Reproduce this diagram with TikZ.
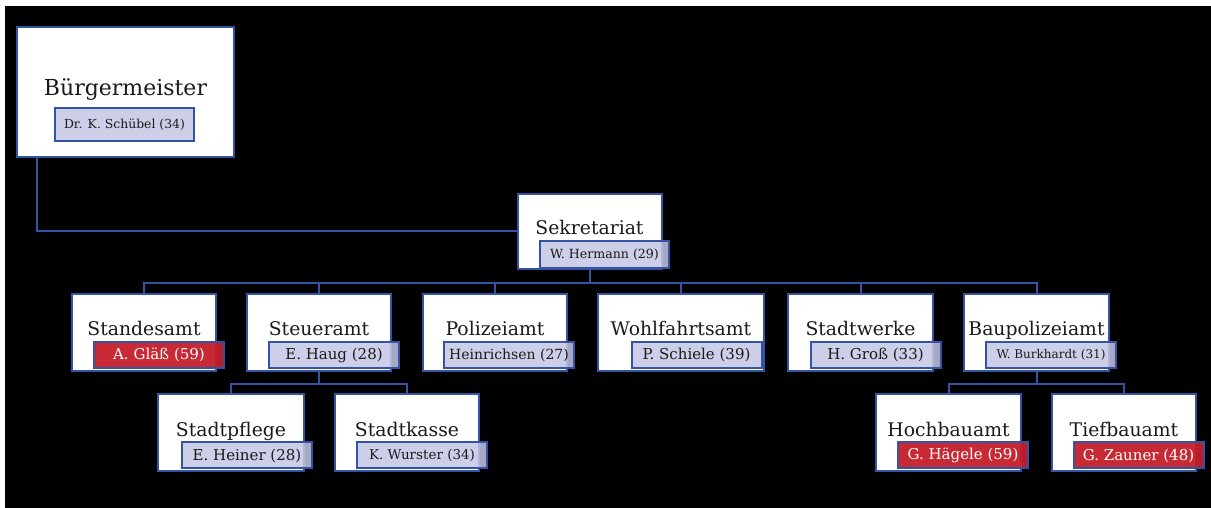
\documentclass[tikz,border=0pt]{standalone}
\usepackage{fontspec}
\setmainfont{DejaVu Serif}
\definecolor{amtblau}{HTML}{3553A5}
\definecolor{namefill}{HTML}{C5C7E6}
\definecolor{namerot}{HTML}{C41F2A}
\definecolor{schrift}{HTML}{1A1A1A}
\tikzset{%
  amt/.style       = {shape=rectangle, draw=amtblau, line width=2pt,%
                      fill=white, text=schrift, inner sep=0pt,%
                      font=\fontsize{18.8}{22}\selectfont,%
                      text height=14pt, text depth=7pt,%
                      minimum width=144pt, minimum height=77pt},%
  leiter/.style    = {shape=rectangle, draw=amtblau, line width=2pt,%
                      fill=namefill, fill opacity=0.85, text opacity=1,%
                      text=schrift, inner sep=0pt, anchor=south,%
                      font=\fontsize{15}{18}\selectfont,%
                      minimum width=130pt, minimum height=26pt},%
  leiterrot/.style = {leiter, fill=namerot, fill opacity=0.95, text=white},%
  linie/.style     = {draw=amtblau, line width=2pt}%
}

\begin{document}
\begin{tikzpicture}[x=1pt,y=1pt]
		\useasboundingbox (0,0) rectangle (1211,508);
		\fill[white] (0,0) rectangle (1211,508);
		\fill[black] (5,0) rectangle (1211,502);
		% Spitze
		\node[amt, minimum width=217pt, minimum height=130pt,%
			font=\fontsize{22}{26}\selectfont, text height=16pt, text depth=9pt]
			(bm) at (125.5,416) {Bürgermeister};
		\node[leiter, anchor=center, minimum width=139pt, minimum height=33pt,%
			font=\fontsize{12.4}{14}\selectfont]
			(bmL) at (124.5,383.5) {Dr. K. Schübel (34)};
		\node[amt, minimum height=75pt] (sek) at (589.5,276.5) {Sekretariat};
		\node[leiter, minimum width=129pt, minimum height=27pt,%
			font=\fontsize{12.6}{14}\selectfont]
			(sekL) at ([shift={(15,1)}]sek.south) {W. Hermann (29)};
		% Aemter
		\node[amt] (stand) at (144,175.5) {Standesamt};
		\node[amt] (steuer) at (319,175.5) {Steueramt};
		\node[amt] (poli) at (495,175.5) {Polizeiamt};
		\node[amt, minimum width=166pt] (wohl) at (681,175.5) {Wohlfahrtsamt};
		\node[amt, minimum width=145pt] (werke) at (860.5,175.5) {Stadtwerke};
		\node[amt, minimum width=145pt] (baupol) at (1036.5,175.5) {Baupolizeiamt};
		\node[leiterrot] (standL) at ([shift={(15,3)}]stand.south) {A. Gläß (59)};
		\node[leiter] (steuerL) at ([shift={(15,3)}]steuer.south) {E. Haug (28)};
		\node[leiter, font=\fontsize{14}{16}\selectfont]
			(poliL) at ([shift={(14,3)}]poli.south) {Heinrichsen (27)};
		\node[leiter] (wohlL) at ([shift={(15.5,3)}]wohl.south) {P. Schiele (39)};
		\node[leiter] (werkeL) at ([shift={(15,3)}]werke.south) {H. Groß (33)};
		\node[leiter, font=\fontsize{12}{14}\selectfont]
			(baupolL) at ([shift={(14.5,3)}]baupol.south) {W. Burkhardt (31)};
		% untere Ebene
		\node[amt, minimum width=146pt] (pflege) at (231,75) {Stadtpflege};
		\node[amt] (kasse) at (407,75) {Stadtkasse};
		\node[amt, minimum width=145pt] (hoch) at (948.5,75) {Hochbauamt};
		\node[amt] (tief) at (1124,75) {Tiefbauamt};
		\node[leiter] (pflegeL) at ([shift={(16,3)}]pflege.south) {E. Heiner (28)};
		\node[leiter, font=\fontsize{13.5}{16}\selectfont]
			(kasseL) at ([shift={(15,3)}]kasse.south) {K. Wurster (34)};
		\node[leiterrot] (hochL) at ([shift={(14.5,3)}]hoch.south) {G. Hägele (59)};
		\node[leiterrot] (tiefL) at ([shift={(14.5,3)}]tief.south) {G. Zauner (48)};
		% Verbindungen
		\draw[linie] (bm.south west) ++(21,0) |- (sek.west);
		\foreach \n in {stand,steuer,poli,wohl,werke,baupol}
			\draw[linie] (sek.south) -- ++(0,-13) -| (\n.north);
		\foreach \n in {pflege,kasse}
			\draw[linie] (steuer.south) -- ++(0,-12) -| (\n.north);
		\foreach \n in {hoch,tief}
			\draw[linie] (baupol.south) -- ++(0,-12) -| (\n.north);
	\end{tikzpicture}
\end{document}
